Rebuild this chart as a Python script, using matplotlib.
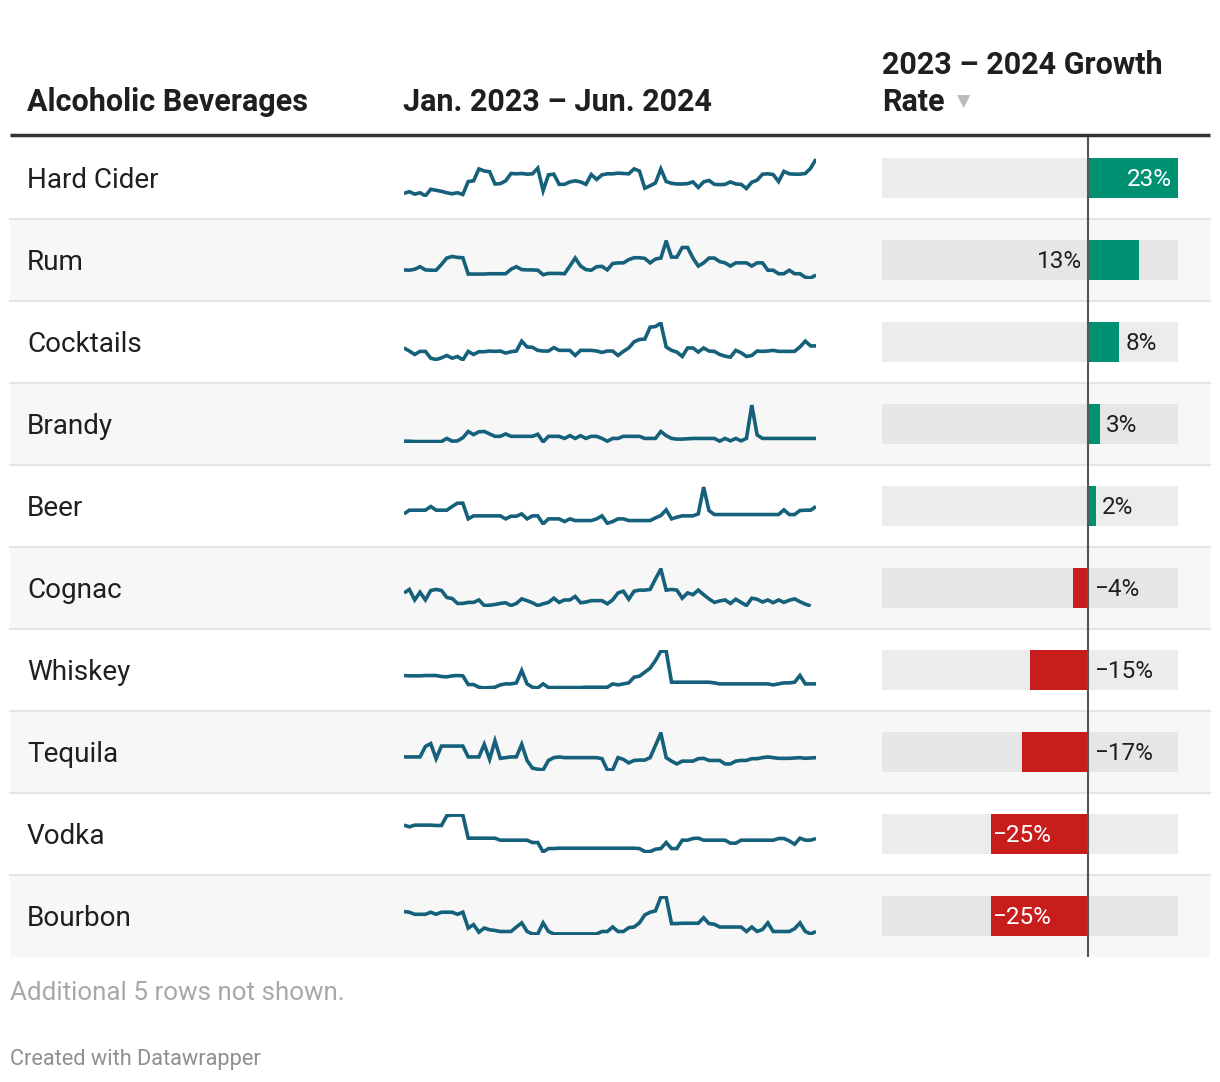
import numpy as np
import matplotlib
matplotlib.use("Agg")
import matplotlib.pyplot as plt
from matplotlib.patches import Rectangle

plt.rcParams['font.family'] = ['Roboto', 'DejaVu Sans']

# Table data
beverages = ['Hard Cider', 'Rum', 'Cocktails', 'Brandy', 'Beer',
             'Cognac', 'Whiskey', 'Tequila', 'Vodka', 'Bourbon']
growth = [23, 13, 8, 3, 2, -4, -15, -17, -25, -25]

# weekly search interest, Jan 2023 - Jun 2024 (relative index)
hard_cider = [20, 25, 18, 22, 13, 32, 29, 26, 22, 19, 22, 17, 54, 56, 90, 84, 82, 47, 48, 56,
              77, 76, 77, 75, 76, 92, 28, 73, 75, 46, 46, 53, 56, 53, 46, 74, 60, 73, 76, 76,
              78, 77, 76, 90, 84, 35, 42, 50, 90, 54, 49, 47, 47, 48, 53, 37, 53, 57, 46, 45,
              46, 53, 47, 46, 34, 52, 58, 75, 76, 74, 54, 83, 76, 75, 75, 77, 92, 118]
rum = [38, 37, 40, 48, 38, 37, 37, 55, 75, 80, 77, 76, 25, 25, 25, 25, 26, 26, 26, 26,
       40, 48, 39, 38, 38, 37, 23, 27, 27, 27, 26, 50, 75, 50, 39, 37, 48, 49, 38, 58,
       60, 60, 70, 76, 76, 74, 60, 72, 75, 128, 78, 78, 108, 108, 75, 50, 60, 75, 75, 64,
       60, 50, 60, 60, 60, 50, 60, 60, 37, 37, 26, 26, 37, 26, 26, 15, 13, 22]
cocktails = [47, 38, 28, 37, 37, 17, 13, 18, 25, 17, 22, 12, 37, 28, 36, 36, 38, 37, 38, 32,
             36, 38, 67, 50, 49, 40, 38, 38, 48, 40, 40, 40, 25, 40, 40, 40, 38, 34, 38, 38,
             25, 37, 47, 65, 72, 73, 108, 110, 120, 50, 40, 35, 22, 47, 47, 35, 47, 38, 37, 28,
             23, 20, 40, 33, 22, 25, 38, 37, 38, 40, 37, 37, 37, 37, 50, 67, 53, 53]
brandy = [14, 14, 13, 13, 13, 13, 13, 13, 22, 14, 15, 24, 42, 33, 41, 42, 35, 28, 28, 35,
          28, 28, 28, 28, 28, 34, 12, 28, 28, 28, 22, 30, 22, 30, 22, 28, 28, 22, 14, 22,
          22, 28, 28, 28, 28, 22, 22, 22, 42, 30, 22, 20, 20, 21, 22, 22, 22, 22, 22, 14,
          22, 15, 22, 15, 22, 118, 32, 22, 22, 22, 22, 22, 22, 22, 22, 22, 22, 22]
beer = [40, 51, 51, 51, 51, 62, 51, 51, 51, 62, 72, 72, 25, 34, 34, 34, 34, 34, 34, 25,
        33, 33, 40, 25, 34, 34, 10, 25, 25, 25, 17, 25, 20, 20, 20, 20, 25, 34, 12, 17,
        25, 25, 20, 20, 20, 20, 20, 28, 35, 52, 25, 30, 34, 34, 34, 40, 120, 50, 38, 38,
        38, 38, 38, 38, 38, 38, 38, 38, 38, 38, 38, 52, 38, 38, 50, 51, 51, 62]
cognac = [50, 60, 30, 52, 30, 57, 60, 57, 37, 34, 20, 20, 23, 23, 30, 14, 15, 17, 20, 22,
          14, 20, 33, 28, 22, 14, 19, 23, 35, 23, 30, 30, 40, 22, 24, 28, 28, 28, 19, 30,
          50, 55, 32, 55, 58, 58, 60, 90, 118, 58, 60, 58, 35, 50, 45, 58, 45, 33, 23, 27,
          30, 20, 32, 23, 14, 35, 32, 24, 30, 22, 30, 23, 29, 33, 25, 18, 13]
whiskey = [50, 49, 49, 49, 50, 50, 50, 47, 46, 49, 50, 49, 23, 23, 15, 13, 14, 15, 22, 25,
           25, 28, 65, 25, 15, 13, 25, 14, 14, 14, 14, 14, 14, 14, 15, 15, 15, 15, 15, 25,
           22, 25, 28, 45, 48, 60, 72, 95, 123, 123, 30, 30, 30, 30, 30, 30, 30, 30, 28, 25,
           25, 25, 25, 25, 25, 25, 25, 25, 25, 22, 25, 28, 28, 30, 50, 25, 25, 25]
tequila = [52, 52, 52, 52, 82, 90, 47, 83, 83, 83, 83, 83, 52, 52, 52, 88, 45, 98, 48, 50,
           52, 52, 88, 42, 20, 17, 15, 42, 50, 52, 50, 50, 50, 50, 50, 50, 50, 47, 15, 15,
           50, 45, 35, 42, 43, 43, 50, 85, 120, 50, 40, 32, 40, 40, 40, 47, 48, 42, 42, 42,
           32, 32, 40, 42, 42, 47, 47, 50, 52, 50, 48, 48, 48, 49, 50, 48, 49, 50]
vodka = [92, 87, 92, 92, 92, 92, 91, 91, 120, 122, 122, 122, 53, 53, 53, 53, 53, 53, 47, 47,
         47, 47, 47, 47, 40, 40, 12, 22, 22, 23, 23, 23, 23, 23, 23, 23, 23, 23, 23, 23,
         23, 23, 23, 23, 22, 13, 13, 20, 22, 40, 22, 22, 47, 47, 52, 53, 47, 47, 47, 47,
         47, 38, 38, 47, 47, 47, 47, 47, 47, 47, 52, 52, 45, 35, 53, 47, 47, 52]
bourbon = [80, 78, 72, 72, 72, 78, 72, 78, 78, 78, 72, 78, 32, 42, 20, 32, 27, 25, 22, 22,
           22, 35, 47, 22, 15, 15, 47, 22, 15, 15, 15, 15, 15, 15, 15, 15, 15, 22, 22, 35,
           22, 22, 33, 35, 47, 70, 78, 82, 122, 122, 45, 45, 46, 46, 46, 46, 62, 45, 43, 35,
           35, 35, 35, 35, 22, 35, 22, 28, 47, 22, 22, 22, 22, 30, 47, 22, 15, 22]
trends = [hard_cider, rum, cocktails, brandy, beer, cognac, whiskey, tequila, vodka, bourbon]
n_weeks = 78

# colours
spark_color = '#15607a'
pos_color = '#009172'
neg_color = '#c71e1d'
text_dark = '#1f1f1f'

W, H = 1220, 1082
fig = plt.figure(figsize=(W / 100, H / 100), dpi=100)
fig.patch.set_facecolor('white')


def px_rect(x0, y0, w, h):
    return [x0 / W, 1 - (y0 + h) / H, w / W, h / H]


# background layer in pixel coordinates
bg = fig.add_axes([0, 0, 1, 1])
bg.set_xlim(0, W)
bg.set_ylim(H, 0)
bg.axis('off')

row_top, row_h = 137, 82
n_rows = len(beverages)

for i in range(n_rows):
    y0 = row_top + i * row_h
    if i % 2 == 1:
        bg.add_patch(Rectangle((10, y0), 1200, row_h, color='#f7f7f7', lw=0, zorder=0))
    if i < n_rows - 1:
        bg.plot([10, 1210], [y0 + row_h, y0 + row_h], color='#e4e4e4', lw=1.5, zorder=1)
    bg.text(27, y0 + row_h / 2 + 2, beverages[i], fontsize=20.1, color=text_dark,
            va='center', ha='left')

# header
hdr = dict(fontsize=22, fontweight='bold', color=text_dark, va='center')
bg.plot([10, 1210], [135, 135], color='#333333', lw=2.5, solid_capstyle='butt')
bg.text(27, 102, 'Alcoholic Beverages', **hdr)
bg.text(403, 102, 'Jan. 2023 \u2013 Jun. 2024', **hdr)
bg.text(882, 65, '2023 \u2013 2024 Growth', **hdr)
bg.text(882, 102, 'Rate', **hdr)
bg.text(957, 102, '\u25bc', fontsize=12.5, color='#bbbbbb', va='center',
        family=['DejaVu Sans'])

# footer
bg.text(10, 993, 'Additional 5 rows not shown.', fontsize=18.7, color='#a8a8a8', va='center')
bg.text(10, 1060, 'Created with Datawrapper', fontsize=15.7, color='#8f8f8f', va='center')

# sparklines
weeks = np.arange(n_weeks)
for i, series in enumerate(trends):
    yc = row_top + i * row_h + row_h / 2
    sax = fig.add_axes(px_rect(404, yc - 20, 412, 39))
    sax.patch.set_alpha(0)
    sax.plot(weeks[:len(series)], series, color=spark_color, lw=2.6,
             solid_joinstyle='miter', solid_capstyle='butt')
    sax.set_xlim(0, n_weeks - 1)
    lo, hi = min(series), max(series)
    pad = (hi - lo) * 0.03
    sax.set_ylim(lo - pad, hi + pad)
    sax.axis('off')

# growth bars
bax = fig.add_axes(px_rect(882, row_top, 296, row_h * n_rows))
bax.patch.set_alpha(0)
xmin, xmax = -52.8, 23.0
bax.set_xlim(xmin, xmax)
bax.set_ylim(n_rows - 0.5, -0.5)
bax.axis('off')
rows = np.arange(n_rows)
track_colors = ['#ececec' if i % 2 == 0 else '#e6e6e6' for i in rows]
bax.barh(rows, xmax - xmin, left=xmin, height=40 / row_h, color=track_colors, lw=0)
bar_colors = [pos_color if v > 0 else neg_color for v in growth]
bax.barh(rows, growth, height=40 / row_h, color=bar_colors, lw=0, zorder=2)
bax.axvline(0, color='#555555', lw=1.5, zorder=3)

off = 6 / 3.9  # ~6px in data units
dy = 2 / row_h  # nudge labels down ~2px
for i, v in enumerate(growth):
    lab = f'{v}%'.replace('-', '\u2212')
    kw = dict(fontsize=17.5, va='center', zorder=4)
    if v >= 20:
        bax.text(v - off, i + dy, lab, ha='right', color='white', **kw)
    elif v >= 10:
        bax.text(-off, i + dy, lab, ha='right', color=text_dark, **kw)
    elif v > 0:
        bax.text(v + off, i + dy, lab, ha='left', color=text_dark, **kw)
    elif v > -20:
        bax.text(off, i + dy, lab, ha='left', color=text_dark, **kw)
    else:
        bax.text(v + 0.3, i + dy, lab, ha='left', color='white', **kw)

fig.savefig('out.png', dpi=100, facecolor='white')
